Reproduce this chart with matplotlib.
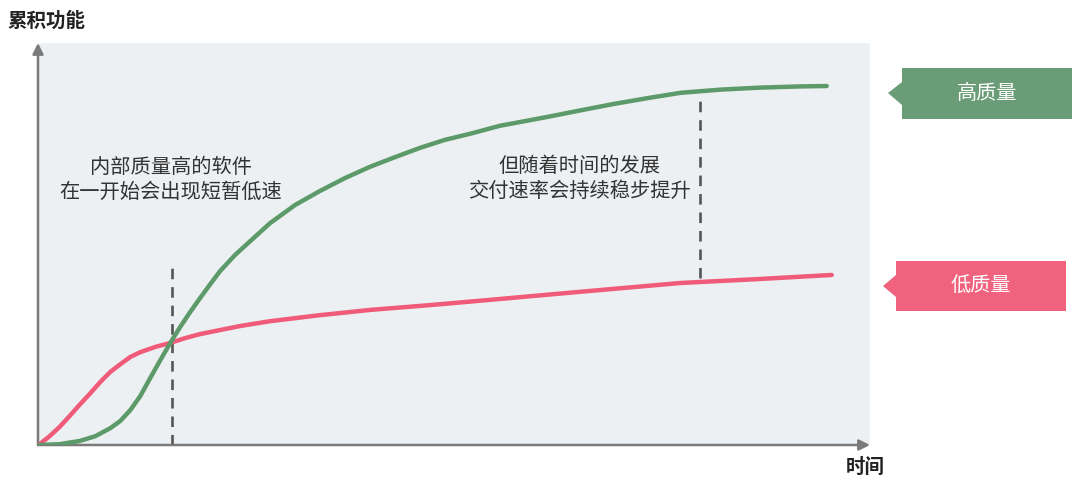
import numpy as np
import matplotlib.pyplot as plt
from matplotlib.patches import Polygon

plt.rcParams['font.family'] = ['Noto Sans CJK SC', 'DejaVu Sans']

# curve data (time 0-100, cumulative features 0-100)
green_x = [0.2, 2.6, 5.0, 6.9, 8.7, 9.9, 11.1, 12.3, 13.5, 14.7, 15.9,
           17.1, 18.3, 19.5, 20.7, 21.9, 23.7, 25.5, 27.9, 30.9, 33.9,
           36.9, 39.9, 42.9, 45.9, 48.9, 51.9, 55.5, 61.2, 65.1, 69.1,
           73.6, 77.2, 82.0, 86.8, 91.6, 94.8]
green_y = [0.0, 0.2, 1.0, 2.2, 4.2, 6.0, 8.7, 12.2, 16.7, 21.1, 25.4,
           29.4, 33.1, 36.6, 40.0, 43.3, 47.3, 50.7, 55.2, 59.7, 63.2,
           66.4, 69.2, 71.6, 73.9, 75.9, 77.4, 79.4, 81.6, 83.2, 84.8,
           86.4, 87.6, 88.4, 88.9, 89.2, 89.3]

red_x = [0.2, 1.4, 2.6, 3.8, 5.0, 6.3, 7.5, 8.7, 9.9, 11.1, 12.3, 14.1,
         15.9, 17.7, 19.5, 21.9, 24.3, 27.9, 33.9, 39.9, 47.1, 54.3,
         65.1, 77.2, 86.8, 95.4]
red_y = [0.2, 2.2, 4.5, 7.2, 10.0, 12.9, 15.7, 18.2, 20.1, 21.9, 23.1,
         24.4, 25.4, 26.6, 27.6, 28.6, 29.6, 30.8, 32.3, 33.6, 34.8, 36.1,
         38.1, 40.3, 41.3, 42.3]

# dashed markers: x, y_bottom, y_top
marker1 = (16.1, 0.0, 45.5)
marker2 = (79.6, 41.5, 87.1)

note1 = "内部质量高的软件\n在一开始会出现短暂低速"
note2 = "但随着时间的发展\n交付速率会持续稳步提升"
tag_high = "高质量"
tag_low = "低质量"

GREEN_LINE = "#5c9b69"
GREEN_TAG = "#6a9d77"
RED_LINE = "#ef5b79"
RED_TAG = "#f0627e"
BG = "#edf0f3"
AXIS = "#7a7a7a"

W, H = 1080, 482
fig = plt.figure(figsize=(W / 100, H / 100), dpi=100)
ax = fig.add_axes([38 / W, (H - 445) / H, (870 - 38) / W, (445 - 43) / H])
ax.set_facecolor(BG)
ax.set_xlim(0, 100)
ax.set_ylim(0, 100)
for s in ax.spines.values():
    s.set_visible(False)
ax.set_xticks([])
ax.set_yticks([])

# axes arrows
arrow = dict(arrowstyle='-|>', color=AXIS, lw=1.8, mutation_scale=16,
             shrinkA=0, shrinkB=0)
ax.annotate('', xy=(0, 1), xytext=(0, 0), xycoords='axes fraction',
            arrowprops=arrow, annotation_clip=False)
ax.annotate('', xy=(1, 0), xytext=(0, 0), xycoords='axes fraction',
            arrowprops=arrow, annotation_clip=False)

# curves
ax.plot(red_x, red_y, color=RED_LINE, lw=3.2, solid_capstyle='round',
        solid_joinstyle='round', zorder=3)
ax.plot(green_x, green_y, color=GREEN_LINE, lw=3.2, solid_capstyle='round',
        solid_joinstyle='round', zorder=3)

# dashed guides
for mx, y0, y1 in (marker1, marker2):
    ax.plot([mx, mx], [y0, y1], color="#555555", lw=1.9,
            linestyle=(0, (4, 3)), zorder=2)

ax.text(16.0, 66.0, note1, ha='center', va='center', fontsize=14.6,
        color="#333333", linespacing=1.25)
ax.text(65.1, 66.2, note2, ha='center', va='center', fontsize=14.6,
        color="#333333", linespacing=1.25)

# axis titles
fig.text(7 / W, 1 - 21 / H, "累积功能", ha='left', va='center',
         fontsize=14, fontweight='bold', color="#222222")
fig.text(865 / W, 1 - 467 / H, "时间", ha='center', va='center',
         fontsize=14, fontweight='bold', color="#222222")


def tag(tip, base, box, color, label):
    """Draw a label box with a small notch pointing left."""
    tx, ty = tip
    bx, by0, by1 = base
    x0, y0, x1, y1 = box
    pts = [(tx, ty), (bx, by0), (x0, y0), (x1, y0), (x1, y1), (x0, y1),
           (bx, by1)]
    pts = [(px / W, 1 - py / H) for px, py in pts]
    fig.patches.append(Polygon(pts, closed=True, facecolor=color,
                               edgecolor='none', transform=fig.transFigure))
    fig.text((x0 + x1) / 2 / W, 1 - (y0 + y1) / 2 / H, label, ha='center',
             va='center', fontsize=14.5, color='white')


tag((888, 93), (902, 82, 105), (902, 68, 1072, 119), GREEN_TAG, tag_high)
tag((883, 286), (896, 275, 297), (896, 261, 1066, 311), RED_TAG, tag_low)

fig.savefig("out.png", dpi=100)
